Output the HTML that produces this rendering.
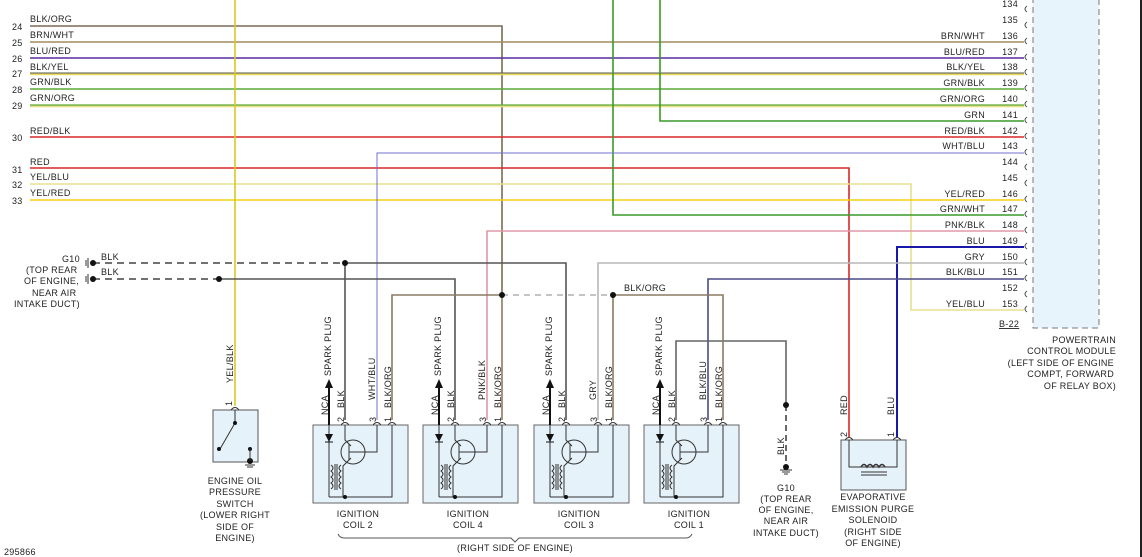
<!DOCTYPE html>
<html><head><meta charset="utf-8"><style>
html,body{margin:0;padding:0;background:#fff;}
svg{display:block;}
text{font-family:"Liberation Sans",sans-serif;font-size:9px;fill:#222;letter-spacing:0.3px;}
</style></head><body>
<svg width="1142" height="557" viewBox="0 0 1142 557" xmlns="http://www.w3.org/2000/svg">
<defs>
<g id="coil">
  <rect x="313" y="425" width="95" height="78" fill="#e6f2f9" stroke="#666" stroke-width="1"/>
  <!-- NCA -->
  <line x1="329" y1="425" x2="329" y2="497" stroke="#333" stroke-width="1"/>
  <polygon points="325,434 333,434 329,442" fill="#111"/>
  <line x1="325" y1="442" x2="333" y2="442" stroke="#111"/>
  <!-- transistor -->
  <circle cx="353" cy="452" r="12" fill="none" stroke="#333"/>
  <line x1="349" y1="444" x2="349" y2="460" stroke="#333"/>
  <line x1="349" y1="452" x2="365" y2="452" stroke="#333"/>
  <polyline points="345,425 345,440 351,446" fill="none" stroke="#333"/>
  <polyline points="351,458 343,466 343,497" fill="none" stroke="#333"/>
  <polyline points="365,452 377,452 377,425" fill="none" stroke="#333"/>
  <polyline points="392,425 392,497 329,497" fill="none" stroke="#333"/>
  <path d="M331,465 q4,3 0,6 q4,3 0,6 q4,3 0,6 q4,3 0,6" fill="none" stroke="#333"/>
  <path d="M341,465 q-4,3 0,6 q-4,3 0,6 q-4,3 0,6 q-4,3 0,6" fill="none" stroke="#333"/>
  <line x1="335" y1="464" x2="335" y2="490" stroke="#333"/>
  <line x1="337" y1="464" x2="337" y2="490" stroke="#333"/>
  <circle cx="345" cy="497" r="2" fill="#111"/>
  <!-- connector arcs -->
  <path d="M341,425 q4,-5 8,0 M373,425 q4,-5 8,0 M388,425 q4,-5 8,0" fill="none" stroke="#333"/>
  <line x1="329" y1="425" x2="329" y2="388" stroke="#111" stroke-width="2"/>
  <polygon points="325,388 333,388 329,379" fill="#111"/>
  <text transform="translate(328,415) rotate(-90)">NCA</text>
  <text transform="translate(331,376) rotate(-90)">SPARK PLUG</text>
  <text transform="translate(344,422) rotate(-90)">2</text>
  <text transform="translate(344,408) rotate(-90)">BLK</text>
  <text transform="translate(376,422) rotate(-90)">3</text>
  <text transform="translate(391,422) rotate(-90)">1</text>
  <text transform="translate(391,408) rotate(-90)">BLK/ORG</text>
</g>
</defs>

<!-- horizontal wires -->
<g fill="none" stroke-width="1.6">
<polyline points="30,26 502,26 502,295" stroke="#7b6a58"/>
<line x1="30" y1="42" x2="1024" y2="42" stroke="#a08c62"/>
<line x1="30" y1="58" x2="1024" y2="58" stroke="#5a2ca0"/>
<line x1="30" y1="74" x2="1024" y2="74" stroke="#e8dc60" stroke-width="2.4"/>
<line x1="30" y1="73" x2="1024" y2="73" stroke="#555" stroke-width="1"/>
<line x1="30" y1="89" x2="1024" y2="89" stroke="#5aa838"/>
<line x1="30" y1="106" x2="1024" y2="106" stroke="#e6e080" stroke-width="2.4"/>
<line x1="30" y1="105" x2="1024" y2="105" stroke="#5aa838" stroke-width="1.2"/>
<line x1="30" y1="137" x2="1024" y2="137" stroke="#d82828"/>
<polyline points="30,168 849,168 849,437" stroke="#d82828"/>
<polyline points="30,184 911,184 911,310 1024,310" stroke="#e8e090"/>
<line x1="30" y1="200" x2="1024" y2="200" stroke="#f0d010"/>
<polyline points="660,0 660,121 1024,121" stroke="#3a9a28"/>
<polyline points="613,0 613,215 1024,215" stroke="#3a9a28"/>
<polyline points="377,420 377,153 1024,153" stroke="#7070d0" stroke-width="1"/>
<polyline points="487,420 487,231 1024,231" stroke="#e098a8"/>
<polyline points="897,437 897,247 1024,247" stroke="#1818a8" stroke-width="2"/>
<polyline points="598,420 598,263 1024,263" stroke="#b8b8b8"/>
<polyline points="708,420 708,279 1024,279" stroke="#4a4a88"/>
<line x1="235" y1="0" x2="235" y2="406" stroke="#d8c820"/>
<!-- grounds -->
<line x1="93" y1="263" x2="345" y2="263" stroke="#444" stroke-dasharray="7,5"/>
<polyline points="345,263 566,263 566,420" stroke="#555"/>
<line x1="345" y1="263" x2="345" y2="420" stroke="#555"/>
<line x1="93" y1="279" x2="219" y2="279" stroke="#444" stroke-dasharray="7,5"/>
<polyline points="219,279 455,279 455,420" stroke="#555"/>
<polyline points="676,420 676,341 786,341 786,405" stroke="#666"/>
<line x1="786" y1="405" x2="786" y2="467" stroke="#444" stroke-dasharray="6,4"/>
<!-- BLK/ORG -->
<polyline points="392,420 392,295 502,295 502,420" stroke="#8a7a62"/>
<line x1="502" y1="295" x2="613" y2="295" stroke="#888" stroke-dasharray="6,5" stroke-width="1"/>
<polyline points="613,420 613,295 723,295 723,420" stroke="#8a7a62"/>
</g>
<g fill="#111">
<circle cx="345" cy="263" r="3"/><circle cx="219" cy="279" r="3"/>
<circle cx="502" cy="295" r="3"/><circle cx="613" cy="295" r="3"/>
<circle cx="93" cy="263" r="3"/><circle cx="93" cy="279" r="3"/>
<circle cx="786" cy="405" r="3"/><circle cx="786" cy="467" r="3"/>
</g>
<path d="M88,258 v10 M86,260 v6 M88,274 v10 M86,276 v6" stroke="#333"/>
<path d="M780,470 h12 M782,472 h8 M784,474 h4" stroke="#333"/>

<!-- left labels -->
<text x="30" y="22">BLK/ORG</text><text x="12" y="30">24</text>
<text x="30" y="38">BRN/WHT</text><text x="12" y="46">25</text>
<text x="30" y="54">BLU/RED</text><text x="12" y="62">26</text>
<text x="30" y="70">BLK/YEL</text><text x="12" y="77">27</text>
<text x="30" y="85">GRN/BLK</text><text x="12" y="93">28</text>
<text x="30" y="101">GRN/ORG</text><text x="12" y="109">29</text>
<text x="30" y="134">RED/BLK</text><text x="12" y="141">30</text>
<text x="30" y="165">RED</text><text x="12" y="173">31</text>
<text x="30" y="180">YEL/BLU</text><text x="12" y="188">32</text>
<text x="30" y="196">YEL/RED</text><text x="12" y="204">33</text>
<text x="62" y="262">G10</text>
<text x="26" y="273">(TOP REAR</text>
<text x="24" y="284">OF ENGINE,</text>
<text x="32" y="296">NEAR AIR</text>
<text x="14" y="307">INTAKE DUCT)</text>
<text x="101" y="260">BLK</text><text x="101" y="275">BLK</text>
<text x="624" y="291">BLK/ORG</text>

<!-- PCM -->
<rect x="1033" y="-5" width="66" height="333" fill="#e8f4fb" stroke="#777" stroke-dasharray="6,4"/>
<g fill="none" stroke="#555">
<path d="M1027,6 q-4,3 0,6 M1027,22 q-4,3 0,6 M1027,38 q-4,3 0,6 M1027,54 q-4,3 0,6 M1027,69 q-4,3 0,6 M1027,85 q-4,3 0,6 M1027,101 q-4,3 0,6 M1027,117 q-4,3 0,6 M1027,133 q-4,3 0,6 M1027,149 q-4,3 0,6 M1027,164 q-4,3 0,6 M1027,180 q-4,3 0,6 M1027,196 q-4,3 0,6 M1027,211 q-4,3 0,6 M1027,227 q-4,3 0,6 M1027,243 q-4,3 0,6 M1027,259 q-4,3 0,6 M1027,275 q-4,3 0,6 M1027,291 q-4,3 0,6 M1027,306 q-4,3 0,6"/>
</g>
<g text-anchor="end">
<text x="1018" y="7">134</text><text x="1018" y="23">135</text>
<text x="1018" y="39">136</text><text x="985" y="39">BRN/WHT</text>
<text x="1018" y="55">137</text><text x="985" y="55">BLU/RED</text>
<text x="1018" y="70">138</text><text x="985" y="70">BLK/YEL</text>
<text x="1018" y="86">139</text><text x="985" y="86">GRN/BLK</text>
<text x="1018" y="102">140</text><text x="985" y="102">GRN/ORG</text>
<text x="1018" y="118">141</text><text x="985" y="118">GRN</text>
<text x="1018" y="134">142</text><text x="985" y="134">RED/BLK</text>
<text x="1018" y="149">143</text><text x="985" y="149">WHT/BLU</text>
<text x="1018" y="165">144</text><text x="1018" y="181">145</text>
<text x="1018" y="197">146</text><text x="985" y="197">YEL/RED</text>
<text x="1018" y="212">147</text><text x="985" y="212">GRN/WHT</text>
<text x="1018" y="228">148</text><text x="985" y="228">PNK/BLK</text>
<text x="1018" y="244">149</text><text x="985" y="244">BLU</text>
<text x="1018" y="260">150</text><text x="985" y="260">GRY</text>
<text x="1018" y="275">151</text><text x="985" y="275">BLK/BLU</text>
<text x="1018" y="291">152</text>
<text x="1018" y="307">153</text><text x="985" y="307">YEL/BLU</text>
<text x="1116" y="343">POWERTRAIN</text>
<text x="1116" y="354">CONTROL MODULE</text>
<text x="1114" y="366">(LEFT SIDE OF ENGINE</text>
<text x="1114" y="377">COMPT, FORWARD</text>
<text x="1116" y="389">OF RELAY BOX)</text>
</g>
<text x="999" y="327" text-decoration="underline">B-22</text>

<!-- coils -->
<use href="#coil"/>
<use href="#coil" transform="translate(110,0)"/>
<use href="#coil" transform="translate(221,0)"/>
<use href="#coil" transform="translate(331,0)"/>
<text transform="translate(375,400) rotate(-90)">WHT/BLU</text>
<text transform="translate(485,400) rotate(-90)">PNK/BLK</text>
<text transform="translate(596,400) rotate(-90)">GRY</text>
<text transform="translate(706,400) rotate(-90)">BLK/BLU</text>
<g text-anchor="middle">
<text x="358" y="517">IGNITION</text><text x="358" y="528">COIL 2</text>
<text x="468" y="517">IGNITION</text><text x="468" y="528">COIL 4</text>
<text x="579" y="517">IGNITION</text><text x="579" y="528">COIL 3</text>
<text x="689" y="517">IGNITION</text><text x="689" y="528">COIL 1</text>
<text x="515" y="551">(RIGHT SIDE OF ENGINE)</text>
<text x="786" y="491">G10</text><text x="786" y="502">(TOP REAR</text>
<text x="786" y="513">OF ENGINE,</text><text x="786" y="524">NEAR AIR</text>
<text x="786" y="536">INTAKE DUCT)</text>
<text x="873" y="500">EVAPORATIVE</text><text x="873" y="512">EMISSION PURGE</text>
<text x="873" y="523">SOLENOID</text><text x="873" y="535">(RIGHT SIDE</text>
<text x="873" y="546">OF ENGINE)</text>
<text x="235" y="484">ENGINE OIL</text><text x="235" y="495">PRESSURE</text>
<text x="235" y="507">SWITCH</text><text x="235" y="518">(LOWER RIGHT</text>
<text x="235" y="530">SIDE OF</text><text x="235" y="541">ENGINE)</text>
</g>
<path d="M338,534 q2,4 6,4 H511 l4,4 l4,-4 H686 q4,0 6,-4" fill="none" stroke="#555"/>
<text transform="translate(784,455) rotate(-90)">BLK</text>

<!-- oil switch -->
<rect x="213" y="410" width="45" height="52" fill="#e6f2f9" stroke="#555"/>
<path d="M231,410 q4,-5 8,0" fill="none" stroke="#333"/>
<line x1="235" y1="410" x2="235" y2="423" stroke="#333"/>
<line x1="235" y1="423" x2="220" y2="449" stroke="#333"/>
<circle cx="235" cy="423" r="2" fill="#111"/><circle cx="219" cy="449" r="2" fill="#111"/>
<circle cx="250" cy="449" r="2" fill="#111"/><circle cx="250" cy="461" r="3" fill="#111"/>
<line x1="250" y1="449" x2="250" y2="461" stroke="#333"/>
<path d="M245,465 h10 M247,467 h6" stroke="#333"/>
<text transform="translate(233,383) rotate(-90)">YEL/BLK</text>
<text transform="translate(232,406) rotate(-90)">1</text>

<!-- purge solenoid -->
<rect x="841" y="440" width="65" height="50" fill="#e6f2f9" stroke="#555"/>
<path d="M845,440 q4,-5 8,0 M893,440 q4,-5 8,0" fill="none" stroke="#333"/>
<polyline points="849,440 849,467 897,467 897,440" fill="none" stroke="#333"/>
<path d="M861,467 q3,-5 6,0 q3,-5 6,0 q3,-5 6,0 q3,-5 6,0" fill="none" stroke="#333" stroke-width="1.5"/>
<path d="M861,472 h26 M861,475 h26" stroke="#333"/>
<text transform="translate(847,415) rotate(-90)">RED</text>
<text transform="translate(894,415) rotate(-90)">BLU</text>
<text transform="translate(847,437) rotate(-90)">2</text>
<text transform="translate(894,437) rotate(-90)">1</text>

<text x="4" y="555">295866</text>
<line x1="1141" y1="0" x2="1141" y2="557" stroke="#222" stroke-width="2"/>
</svg>
</body></html>
